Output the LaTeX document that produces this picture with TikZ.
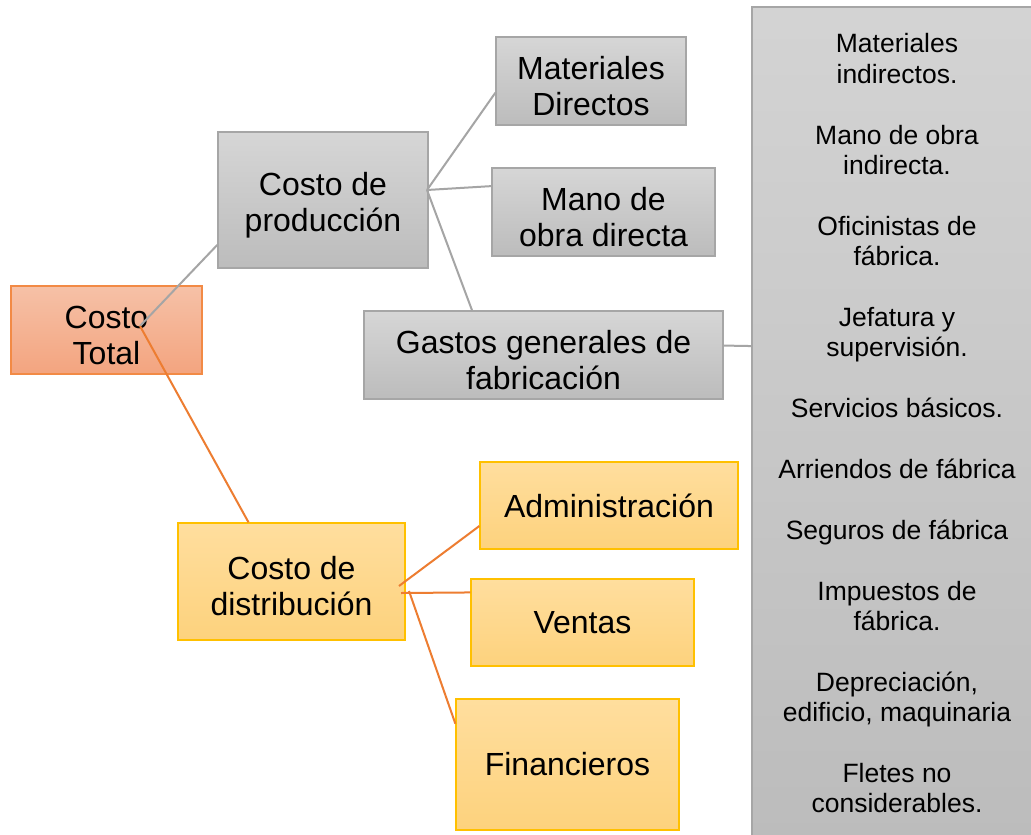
\documentclass[tikz,border=0pt]{standalone}
\usepackage{fontspec}
\setmainfont{Liberation Sans}
\definecolor{gtop}{HTML}{D6D6D6}
\definecolor{gbot}{HTML}{BCBCBC}
\definecolor{gbrd}{HTML}{A6A6A6}
\definecolor{otop}{HTML}{F6C1A7}
\definecolor{obot}{HTML}{F3A47F}
\definecolor{obrd}{HTML}{F28A45}
\definecolor{ytop}{HTML}{FFDE9E}
\definecolor{ybot}{HTML}{FDD27D}
\definecolor{ybrd}{HTML}{FFC000}
\definecolor{oline}{HTML}{ED7D31}
\definecolor{gline}{HTML}{A5A5A5}
\newcommand\tstr{\rule{0pt}{33pt}}
\tikzset{
  box/.style={rectangle, inner sep=0pt, align=center, line width=1.3pt,
    font=\fontsize{32}{36}\selectfont},
  graybox/.style={box, draw=gbrd, top color=gtop, bottom color=gbot},
  orangebox/.style={box, draw=obrd, top color=otop, bottom color=obot},
  yellowbox/.style={box, draw=ybrd, top color=ytop, bottom color=ybot},
  bigbox/.style={rectangle, inner sep=0pt, align=center, line width=1.3pt,
    draw=gbrd, top color=gtop!90!gbot, bottom color=gbot,
    font=\fontsize{26.5}{30.4}\selectfont},
  grayline/.style={draw=gline, line width=2pt},
  orangeline/.style={draw=oline, line width=2pt},
}
\begin{document}
\begin{tikzpicture}[x=1pt,y=-1pt]
\fill[white] (0,0) rectangle (1031,835);
\useasboundingbox (0,0) rectangle (1031,835);

\node[orangebox, minimum width=191pt, minimum height=88pt] (tot) at (106.5,330) {\tstr Costo\\Total};
\node[graybox, minimum width=210pt, minimum height=136pt] (prod) at (323,200) {\tstr Costo de\\producción};
\node[graybox, minimum width=190pt, minimum height=88pt] (mat) at (591,81) {\tstr Materiales\\Directos};
\node[graybox, minimum width=223pt, minimum height=88pt] (mano) at (603.5,212) {\tstr Mano de\\obra directa};
\node[graybox, minimum width=359pt, minimum height=88pt] (gast) at (543.5,355) {\tstr Gastos generales de\\fabricación};
\node[bigbox, minimum width=290pt, minimum height=833pt] (big) at (897,423.5)
  {Materiales\\indirectos.\\[30.4pt]Mano de obra\\indirecta.\\[30.4pt]Oficinistas de\\fábrica.\\[30.4pt]Jefatura y\\supervisión.\\[30.4pt]Servicios básicos.\\[30.4pt]Arriendos de fábrica\\[30.4pt]Seguros de fábrica\\[30.4pt]Impuestos de\\fábrica.\\[30.4pt]Depreciación,\\edificio, maquinaria\\[30.4pt]Fletes no\\considerables.};
\node[yellowbox, minimum width=227pt, minimum height=117pt] (dist) at (291.5,581.5) {\tstr Costo de\\distribución};
\node[yellowbox, minimum width=258pt, minimum height=87pt] (adm) at (609,505.5) {Administración};
\node[yellowbox, minimum width=223pt, minimum height=87pt] (ven) at (582.5,622.5) {Ventas};
\node[yellowbox, minimum width=223pt, minimum height=131pt] (fin) at (567.5,764.5) {Financieros};

\coordinate (hubT) at (140,326);
\coordinate (hubP) at (427,190);
\coordinate (hubDa) at (399,586);
\coordinate (hubDb) at (401,593);
\coordinate (hubDc) at (409,591);

\draw[grayline] (hubT) -- (prod.203.66);
\draw[orangeline] (hubT) -- (dist.126.6);
\draw[grayline] (hubP) -- (mat.187.2);
\draw[grayline] (hubP) -- (mano.167.9);
\draw[grayline] (hubP) -- (gast.148.7);
\draw[grayline] (gast.3.8) -- (big.152.2);
\draw[orangeline] (hubDa) -- (adm.189.5);
\draw[orangeline] (hubDb) -- (ven.165.2);
\draw[orangeline] (hubDc) -- (fin.160.5);
\end{tikzpicture}
\end{document}
